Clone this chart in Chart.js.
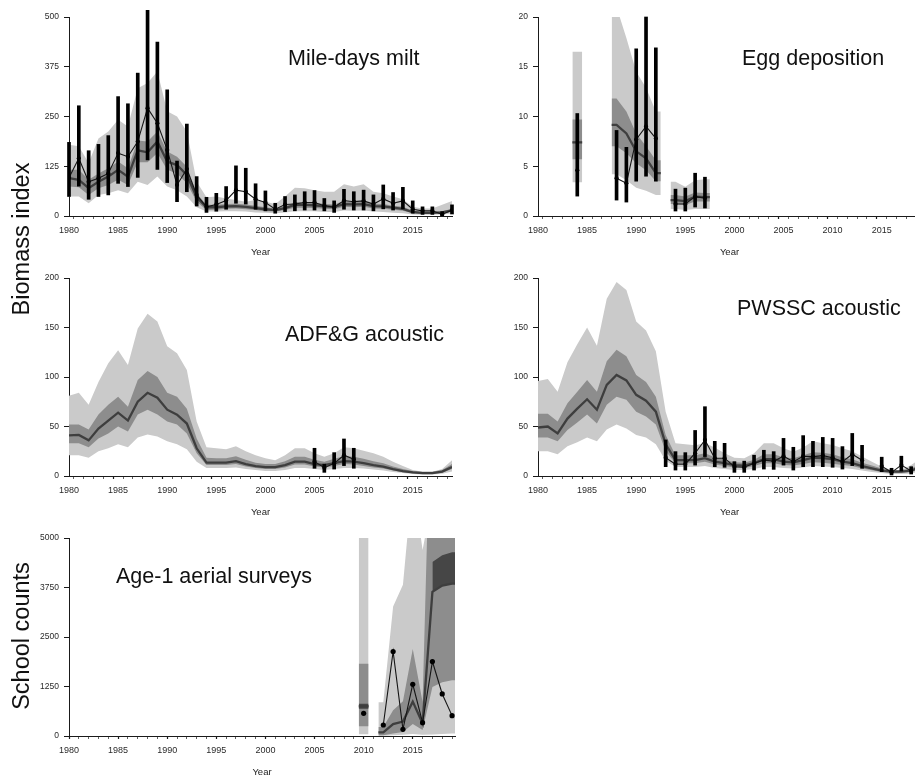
<!DOCTYPE html>
<html>
<head>
<meta charset="utf-8">
<script src="https://cdn.jsdelivr.net/npm/chart.js@4/dist/chart.umd.min.js"></script>
<style>
html, body { margin: 0; padding: 0; background: #fff; overflow: hidden; }
body { position: relative; width: 915px; height: 777px; font-family: "Liberation Sans", Arial, sans-serif; }
canvas { position: absolute; }
.ttl { position: absolute; white-space: nowrap; font-size: 21.5px; line-height: 1; color: #111; }
.ylab { position: absolute; white-space: nowrap; font-size: 23.5px; line-height: 1; color: #111;
        transform: translate(-50%, -50%) rotate(-90deg); }
</style>
</head>
<body>
<canvas id="milt"></canvas>
<canvas id="egg"></canvas>
<canvas id="adfg"></canvas>
<canvas id="pwssc"></canvas>
<canvas id="aerial"></canvas>

<div class="ttl" style="left:288px; top:48px;">Mile-days milt</div>
<div class="ttl" style="left:742px; top:48px;">Egg deposition</div>
<div class="ttl" style="left:285px; top:324px;">ADF&amp;G acoustic</div>
<div class="ttl" style="left:737px; top:298px;">PWSSC acoustic</div>
<div class="ttl" style="left:116px; top:566px;">Age-1 aerial surveys</div>
<div class="ylab" style="left:22px; top:239px;">Biomass index</div>
<div class="ylab" style="left:22px; top:636px;">School counts</div>

<script>
const years = [1980,1981,1982,1983,1984,1985,1986,1987,1988,1989,
               1990,1991,1992,1993,1994,1995,1996,1997,1998,1999,
               2000,2001,2002,2003,2004,2005,2006,2007,2008,2009,
               2010,2011,2012,2013,2014,2015,2016,2017,2018,2019];

// Mile-days milt
const miltTicks = [0, 125, 250, 375, 500];
const miltObs = [96,145,86,95,107,158,149,187,271,233, 166,78,118,53,23,29,39,65,61,42, 34,17,29,30,34,34,26,22,39,36, 38,30,43,32,38,17,13,13,4,15];
const miltLo  = [49,75,42,49,53,82,74,97,141,117, 84,36,61,25,9,12,17,32,30,17, 13,7,11,13,15,15,13,9,17,15, 15,13,18,15,18,7,4,4,1,5];
const miltHi  = [185,277,164,180,202,300,282,359,517,437, 317,138,231,99,47,57,74,126,120,81, 63,32,49,53,61,64,44,38,67,61, 65,53,78,59,72,38,23,23,11,28];
const miltMed = [95,91,70,86,99,116,99,165,160,187, 137,128,103,47,22,22,24,25,23,20, 17,15,20,28,28,27,24,23,30,29, 30,25,24,21,18,10,8,8,9,14];
const miltDarkLo = [74,72,53,70,78,91,78,135,135,158, 116,107,82,36,15,16,18,19,17,15, 12,11,15,21,21,20,18,17,23,22, 23,19,18,16,13,7,6,6,7,10];
const miltDarkHi = [116,116,91,107,120,137,120,190,187,212, 162,149,124,57,28,28,30,31,29,26, 22,19,25,35,35,34,30,29,38,36, 38,31,30,26,23,13,10,10,12,18];
const miltLightLo = [49,49,32,53,57,65,57,86,78,99, 74,65,49,22,11,11,12,12,11,9, 8,7,9,12,12,12,10,10,14,13, 14,11,10,8,7,4,3,3,4,6];
const miltLightHi = [179,175,133,195,212,242,225,321,334,363, 263,250,212,86,47,49,44,40,36,40, 36,30,49,71,70,65,61,61,80,74, 80,61,57,49,42,23,19,19,28,38];

// Egg deposition
const eggTicks = [0, 5, 10, 15, 20];
const eggYears = [1984, 1988, 1989, 1990, 1991, 1992, 1994, 1995, 1996, 1997];
const eggObs = [4.6, 3.8, 3.3, 7.7, 9.0, 7.8, 1.2, 1.2, 1.95, 1.8];
const eggLo  = [2.0, 1.6, 1.4, 3.5, 4.0, 3.5, 0.5, 0.5, 0.9, 0.8];
const eggHi  = [10.3, 8.6, 6.9, 16.8, 20.0, 16.9, 2.7, 2.8, 4.3, 3.9];
const eggFitYears = [[1984], [1988, 1989, 1990, 1991, 1992], [1994, 1995, 1996, 1997]];
const eggMed     = [[7.4], [9.15, 8.3, 6.5, 5.8, 4.3], [1.6, 1.5, 1.95, 1.9]];
const eggDarkLo  = [[5.7], [7.0, 6.3, 5.3, 4.6, 3.5], [1.2, 1.1, 1.45, 1.45]];
const eggDarkHi  = [[9.7], [11.8, 10.5, 8.3, 7.0, 5.6], [2.1, 1.95, 2.35, 2.3]];
const eggLightLo = [[3.4], [4.2, 3.6, 2.85, 2.55, 2.1], [0.7, 0.6, 0.7, 0.7]];
const eggLightHi = [[16.5], [21, 17.9, 14.5, 12.9, 10.5], [3.45, 2.95, 3.6, 3.7]];

// ADF&G acoustic
const acousticTicks = [0, 50, 100, 150, 200];
const adfgYears = [2005, 2006, 2007, 2008, 2009];
const adfgObs = [14.5, 8.4, 12.8, 21, 17];
const adfgLo  = [7.8, 3.7, 7, 10.5, 7.8];
const adfgHi  = [28, 12, 23.6, 37.4, 28];
const adfgMed = [41,41.5,36,48,56,64,56,75,84,79, 67,62,53,28,13.5,13.5,13.5,15,12,10, 9,9,11,14.5,14.5,12,11,13,15,14.5, 13,11,9.5,7,5,3.7,3,3,4.4,9];
const adfgDarkLo = [33,33,29,38,43,50,45,62,67,62, 55,52,43,23,11,11,11,12,9.5,8, 7,7,8.5,11.5,11.5,9.5,8.5,10,12,11.5, 10,8.5,7.5,5.5,3.8,2.8,2.2,2.2,3.2,7];
const adfgDarkHi = [52,52,47,62,72,80,70,97,106,100, 84,80,68,38,18.5,18,18,20,16.5,13.5, 12,12,15,19.5,19.5,16.5,14.5,17.5,20,19.5, 17.5,15,13,9.5,7,5,4.2,4.2,6,12];
const adfgLightLo = [21,21,18.5,25,28,32,29,39,42,40, 35,32,27,14.5,8,8,8,8.5,7,6, 5,5,6,8,8,7,6,7,8,8, 7.5,6.5,5.5,4,3,2,1.6,1.6,2.2,4.5];
const adfgLightHi = [81,84,72,95,114,127,112,149,164,156, 131,124,107,55,29,28,27,30,25,21, 18,16,21,28,28,23,19.5,23,29,28, 25.6,23,19.5,14.5,10,6,4.4,4.4,7,16];

// PWSSC acoustic
const pwsscYears = [1993,1994,1995,1996,1997,1998,1999,2000,2001,2002,2003,2004,2005,2006,2007,2008,2009,2010,2011,2012,2013, 2015,2016,2017,2018];
const pwsscObs = [18.5,12,12,23,36.4,18,18,9.4,8.8,12.8,16,15,20,14.5,20,19.6,20.6,18.5,14.5,22,16, 10,3.7,11,5];
const pwsscLo  = [9.4,6,6,11,19.6,9.4,8.8,3.7,3.7,6,7,6.7,11,6,9.4,9.4,9.4,8.8,7,10.5,7.8, 4.4,1,5,2];
const pwsscHi  = [36.4,24.6,23.6,46,70,35,33,14.5,15,21,26,24.6,38,29,40.8,35,39,38,29.7,43,31, 19,7.8,20,9.4];
const pwsscMed = [49,50,43,58,68,77.5,67,92,102,96.5, 82,76,65,32,16,16,16,18,14.5,13, 11,10.5,13,17,17,14.5,13.8,16,18.5,18, 17,14.5,13,10,7.8,5.4,4.4,4.4,5.4,9.4];
const pwsscDarkLo = [39,39,35,46.5,54,62,53,72,80,77, 65,60,52,25,13,13,13,14.5,11.5,10, 8.5,8,10,13,13,11,10.5,12,14,13.5, 12.5,11,10,7.5,5.8,4,3.2,3.2,4,7];
const pwsscDarkHi = [63,63,55,73.5,85,97,85,116,127.5,121, 102,95,80,41.5,21,21,21,23,19,16.5, 14,13.5,16.5,22,22,19,18,21,24,23.5, 22,19,17,13.5,10.5,7.5,6,6,7.5,12.5];
const pwsscLightLo = [25,25,22,30,34,39,35,47,52,48, 41.5,39,32,15.5,9,9,9,10,8,7, 6,6,7,9,9,8,7.5,8.5,10,9.5, 9,8,7,5.5,4,3,2,2,2.5,5];
const pwsscLightHi = [96,98,85,115,133,150,131.5,179,196,188, 156,147,126,65,33,32,31,33,28.7,23, 18.5,18,23,33,33,28,24.6,28.7,35,33, 31.4,28,25,19.6,14.5,9.4,6,6,11,18];

// Age-1 aerial surveys
const aerialTicks = [0, 1250, 2500, 3750, 5000];
const aerialYears = [2010, 2012, 2013, 2014, 2015, 2016, 2017, 2018, 2019];
const aerialObs = [573, 278, 2133, 169, 1307, 337, 1880, 1062, 514];
const aerialFitYears = [[2010], [2012, 2013, 2014, 2015, 2016, 2017, 2018, 2019]];
const aerialMed     = [[750], [93, 300, 363, 868, 320, 3640, 3800, 3850]];
const aerialMidLo   = [[245], [20, 60, 100, 300, 150, 1240, 1360, 1410]];
const aerialMidHi   = [[1826], [230, 650, 880, 2200, 860, 10000, 10000, 10000]];
const aerialLightLo = [[42], [5, 20, 30, 50, 30, 40, 50, 60]];
const aerialLightHi = [[8000], [850, 3270, 3820, 6500, 4700, 6000, 9000, 9000]];
const aerialDarkYears = [2017, 2018, 2019];
const aerialDarkLo = [3640, 3805, 3846];
const aerialDarkHi = [4394, 4563, 4642];

const FONT = '"Liberation Sans", Arial, sans-serif';
const LIGHT = '#cacaca', MID = '#8d8d8d', DARK = '#464646', MEDC = '#3e3e3e';
const PX_PER_YEAR = 9.83;

function pts(xs, ys) { return xs.map((x, i) => ({ x: x, y: ys[i] })); }
function padX(a) { return [a[0] - 0.5].concat(a, [a[a.length - 1] + 0.5]); }
function padY(a) { return [a[0]].concat(a, [a[a.length - 1]]); }

function band(xs, lo, hi, color, order) {
  return [
    { data: pts(xs, hi), fill: '+1', backgroundColor: color, borderColor: 'transparent', borderWidth: 0, pointRadius: 0, order: order },
    { data: pts(xs, lo), fill: false, borderColor: 'transparent', borderWidth: 0, pointRadius: 0, order: order }
  ];
}
function medLine(xs, ys) {
  return { data: pts(xs, ys), borderColor: MEDC, borderWidth: 2.3, pointRadius: 0, fill: false, order: 4 };
}
function obsLine(xs, ys, r) {
  const d = [];
  xs.forEach((x, i) => {
    if (i > 0 && x - xs[i - 1] > 1) d.push({ x: x - 0.5, y: null });
    d.push({ x: x, y: ys[i] });
  });
  return { data: d, borderColor: '#151515', borderWidth: 1.1, pointRadius: r || 2.1, pointBorderWidth: 0,
           pointBackgroundColor: '#000', fill: false, order: 2 };
}
function errBars(xs, lo, hi) {
  return { type: 'bar', data: xs.map((x, i) => ({ x: x, y: [lo[i], hi[i]] })), backgroundColor: '#000',
           borderWidth: 0, barThickness: 3, grouped: false, clip: false, order: 1 };
}

function panel(id, left, top, height, xMax, yTicks, datasets) {
  const w = (xMax - 1980) * PX_PER_YEAR;
  const cv = document.getElementById(id);
  cv.width = Math.round(60 + w + 15);
  cv.height = Math.round(15 + height + 45);
  cv.style.left = (left - 60) + 'px';
  cv.style.top = (top - 15) + 'px';
  return new Chart(cv, {
    type: 'line',
    data: { datasets: datasets },
    options: {
      responsive: false,
      animation: false,
      events: [],
      layout: { padding: { left: 0, top: 15, right: 15, bottom: 0 } },
      plugins: { legend: { display: false }, tooltip: { enabled: false } },
      elements: { line: { tension: 0 } },
      scales: {
        x: {
          type: 'linear', min: 1980, max: xMax, offset: false,
          afterBuildTicks: s => { s.ticks = years.map(v => ({ value: v })); },
          afterFit: s => { s.height = 45; },
          border: { display: true, color: '#1a1a1a', width: 1 },
          grid: { drawOnChartArea: false, tickLength: 3, tickColor: '#1a1a1a',
                  tickWidth: c => (c.tick && c.tick.value % 5 === 0) ? 1.2 : 0.7 },
          ticks: { autoSkip: false, maxRotation: 0, padding: 7, color: '#2a2a2a',
                   font: { family: FONT, size: 9, lineHeight: 1 },
                   callback: v => (v % 5 === 0 ? String(v) : '') },
          title: { display: true, text: 'Year', color: '#222', font: { family: FONT, size: 9.5 },
                   padding: { top: 0, bottom: 3.3 } }
        },
        y: {
          min: 0, max: yTicks[yTicks.length - 1],
          afterBuildTicks: s => { s.ticks = yTicks.map(v => ({ value: v })); },
          afterFit: s => { s.width = 60; },
          border: { display: true, color: '#1a1a1a', width: 1 },
          grid: { drawOnChartArea: false, tickLength: 5, tickColor: '#1a1a1a' },
          ticks: { padding: 5, color: '#2a2a2a', font: { family: FONT, size: 8.5 }, callback: v => String(v) }
        }
      }
    }
  });
}

// panel 1
panel('milt', 69, 17, 199, 2019, miltTicks, [].concat(
  band(years, miltLightLo, miltLightHi, LIGHT, 10),
  band(years, miltDarkLo, miltDarkHi, MID, 8),
  [medLine(years, miltMed), obsLine(years, miltObs), errBars(years, miltLo, miltHi)]
));

// panel 2
let eggSets = [];
eggFitYears.forEach((ys, k) => {
  const xs = padX(ys);
  eggSets = eggSets.concat(
    band(xs, padY(eggLightLo[k]), padY(eggLightHi[k]), LIGHT, 10),
    band(xs, padY(eggDarkLo[k]), padY(eggDarkHi[k]), MID, 8),
    [medLine(xs, padY(eggMed[k]))]
  );
});
eggSets.push(obsLine(eggYears, eggObs), errBars(eggYears, eggLo, eggHi));
panel('egg', 538, 17, 199, 2019, eggTicks, eggSets);

// panel 3
panel('adfg', 69, 278, 198, 2019, acousticTicks, [].concat(
  band(years, adfgLightLo, adfgLightHi, LIGHT, 10),
  band(years, adfgDarkLo, adfgDarkHi, MID, 8),
  [medLine(years, adfgMed), obsLine(adfgYears, adfgObs), errBars(adfgYears, adfgLo, adfgHi)]
));

// panel 4
panel('pwssc', 538, 278, 198, 2019, acousticTicks, [].concat(
  band(years, pwsscLightLo, pwsscLightHi, LIGHT, 10),
  band(years, pwsscDarkLo, pwsscDarkHi, MID, 8),
  [medLine(years, pwsscMed), obsLine(pwsscYears, pwsscObs), errBars(pwsscYears, pwsscLo, pwsscHi)]
));

// panel 5
let aerialSets = [];
aerialFitYears.forEach((ys, k) => {
  const xs = padX(ys);
  aerialSets = aerialSets.concat(
    band(xs, padY(aerialLightLo[k]), padY(aerialLightHi[k]), LIGHT, 10),
    band(xs, padY(aerialMidLo[k]), padY(aerialMidHi[k]), MID, 8),
    [medLine(xs, padY(aerialMed[k]))]
  );
});
const darkXs = aerialDarkYears.concat([aerialDarkYears[aerialDarkYears.length - 1] + 0.5]);
aerialSets = aerialSets.concat(
  band([2009.5, 2010.5], [690, 690], [817, 817], DARK, 6),
  band(darkXs, aerialDarkLo.concat([aerialDarkLo[2]]), aerialDarkHi.concat([aerialDarkHi[2]]), DARK, 6),
  [obsLine(aerialYears, aerialObs, 2.6)]
);
panel('aerial', 69, 538, 198, 2019.3, aerialTicks, aerialSets);
</script>
</body>
</html>
